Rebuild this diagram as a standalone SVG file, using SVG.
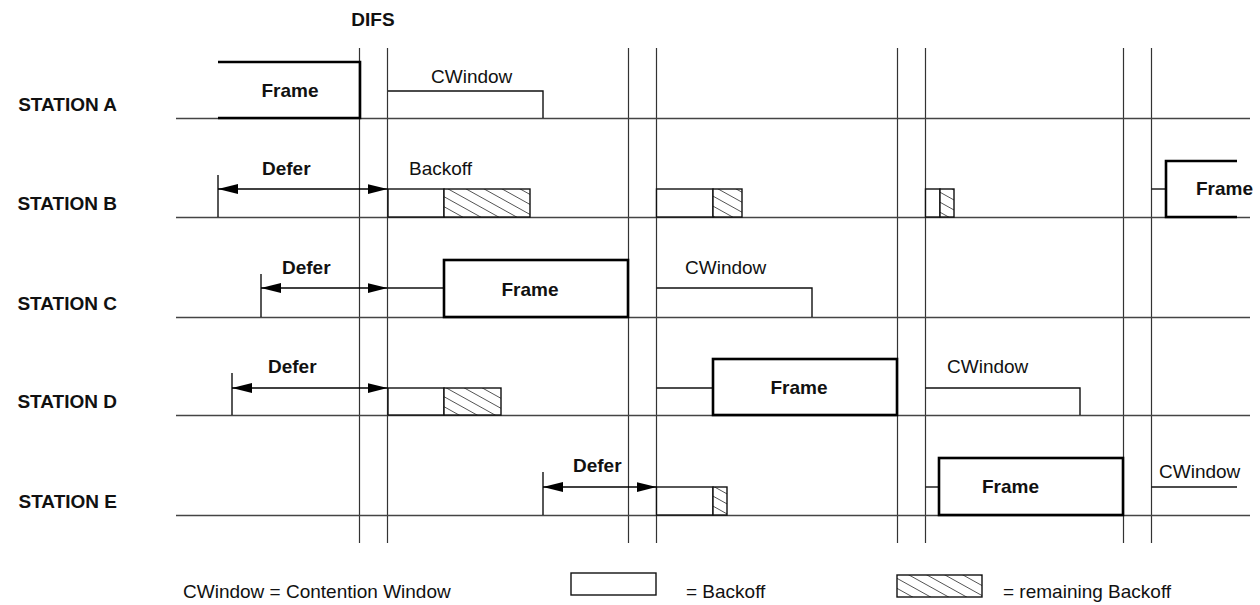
<svg xmlns="http://www.w3.org/2000/svg" width="1260" height="605" viewBox="0 0 1260 605">
<style>
text{font-family:"Liberation Sans",Arial,sans-serif;font-size:19px;fill:#111}
.b{font-weight:bold}
.m{text-anchor:middle}
.e{text-anchor:end}
.grid{stroke:#333;stroke-width:1.2;fill:none}
.base{stroke:#444;stroke-width:1.3;fill:none}
.thin{stroke:#111;stroke-width:1.4;fill:none}
.box{stroke:#111;stroke-width:1.4;fill:#fff}
.hat{stroke:#111;stroke-width:1.4;fill:url(#hatch)}
.thick{stroke:#000;stroke-width:2.6;fill:none}
.arr{stroke:#000;stroke-width:1.4;fill:none;marker-start:url(#ah);marker-end:url(#ah)}
</style>
<defs>
<pattern id="hatch" patternUnits="userSpaceOnUse" width="18" height="10">
<rect width="18" height="10" fill="#fff"/>
<path d="M-18,-20 L36,10 M-18,-10 L36,20 M-18,0 L36,30" stroke="#555" stroke-width="1"/>
</pattern>
<marker id="ah" markerUnits="userSpaceOnUse" markerWidth="20" markerHeight="10" refX="20" refY="5" orient="auto-start-reverse">
<path d="M0,0 L20,5 L0,10 z" fill="#000"/>
</marker>
</defs>
<rect width="1260" height="605" fill="#fff"/>

<g id="timeline">
<text class="b m" x="373" y="26">DIFS</text>
<path class="grid" d="M359.5,48 V543 M387.5,48 V543 M628.5,48 V543 M656.5,48 V543 M897.5,48 V543 M925.5,48 V543 M1123.5,48 V543 M1151.5,48 V543"/>
<path class="base" d="M176,118.5 H1250 M176,217.5 H1250 M176,317.5 H1250 M176,415.5 H1250 M176,515.5 H1250"/>
</g>

<g id="station-a">
<text class="b e" x="117" y="111">STATION A</text>
<path class="thick" d="M218,62 H360 V118 H218"/>
<text class="b m" x="290" y="97">Frame</text>
<path class="thin" d="M388,91 H543 V118"/>
<text x="431" y="83">CWindow</text>
</g>

<g id="station-b">
<text class="b e" x="117" y="210">STATION B</text>
<text class="b" x="262" y="175">Defer</text>
<text x="409" y="175">Backoff</text>
<rect class="box" x="388" y="189" width="56" height="28"/>
<rect class="hat" x="444" y="189" width="86" height="28"/>
<rect class="box" x="656.5" y="189" width="56.5" height="28"/>
<rect class="hat" x="713" y="189" width="29" height="28"/>
<rect class="box" x="925.5" y="189" width="14.5" height="28"/>
<rect class="hat" x="940" y="189" width="14" height="28"/>
<path class="thin" d="M1151.5,189 H1166"/>
<path class="thick" d="M1237,161 H1166 V217 H1237"/>
<text class="b" x="1196" y="195">Frame</text>
</g>

<g id="station-c">
<text class="b e" x="117" y="310">STATION C</text>
<text class="b" x="282" y="274">Defer</text>
<path class="thin" d="M388,288 H444"/>
<rect class="thick" x="444" y="260" width="184" height="57" fill="none"/>
<text class="b m" x="530" y="296">Frame</text>
<path class="thin" d="M656.5,288 H812 V317"/>
<text x="685" y="274">CWindow</text>
</g>

<g id="station-d">
<text class="b e" x="117" y="408">STATION D</text>
<text class="b" x="268" y="373">Defer</text>
<rect class="box" x="388" y="388" width="56" height="27"/>
<rect class="hat" x="444" y="388" width="57" height="27"/>
<path class="thin" d="M656.5,388 H713"/>
<rect class="thick" x="713" y="359" width="184" height="56" fill="none"/>
<text class="b m" x="799" y="394">Frame</text>
<path class="thin" d="M925.5,388 H1080 V415"/>
<text x="947" y="373">CWindow</text>
</g>

<g id="station-e">
<text class="b e" x="117" y="508">STATION E</text>
<text class="b" x="573" y="472">Defer</text>
<rect class="box" x="656.5" y="487" width="56.5" height="28"/>
<rect class="hat" x="713" y="487" width="14" height="28"/>
<path class="thin" d="M925.5,487 H939"/>
<rect class="thick" x="939" y="458" width="184" height="57" fill="none"/>
<text class="b" x="982" y="493">Frame</text>
<path class="thin" d="M1151.5,487 H1237"/>
<text x="1159" y="478">CWindow</text>
</g>

<g id="connectors">
<path class="thin" d="M218,175 V217 M261,274 V317 M232,373 V415 M543,472 V515"/>
<path class="arr" d="M218,189 H387.5"/>
<path class="arr" d="M261,288 H387.5"/>
<path class="arr" d="M232,388 H387.5"/>
<path class="arr" d="M543,487 H656.5"/>
</g>

<g id="legend">
<text x="183" y="598">CWindow = Contention Window</text>
<rect class="box" x="571" y="573" width="85" height="22"/>
<text x="686" y="598">= Backoff</text>
<rect class="hat" x="897" y="575" width="85" height="22"/>
<text x="1003" y="598">= remaining Backoff</text>
</g>
</svg>
